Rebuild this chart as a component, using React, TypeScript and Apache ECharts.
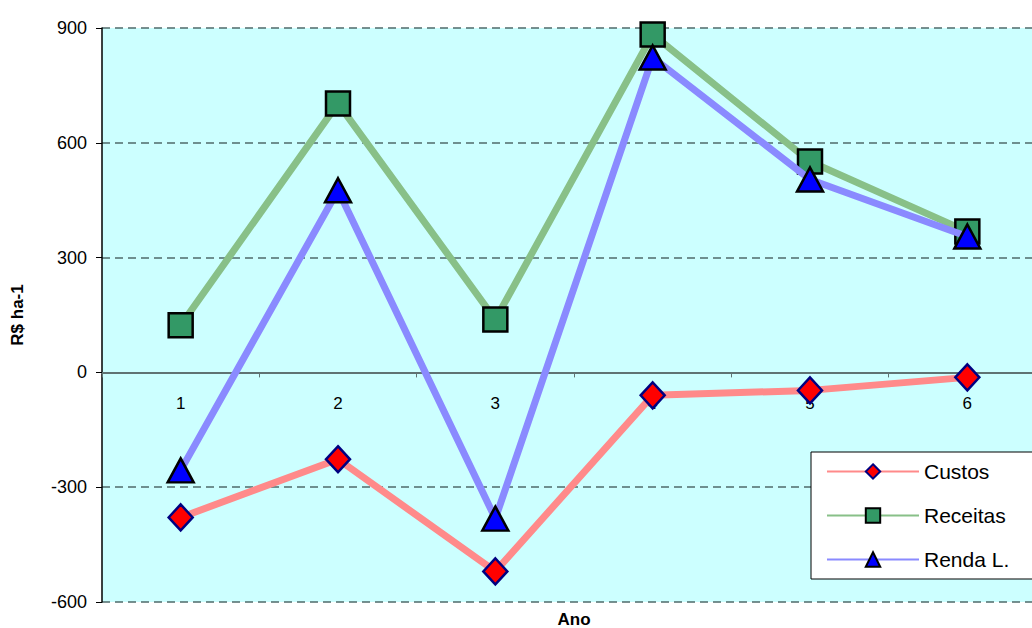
import React, { useEffect, useRef } from "react";
import * as echarts from "echarts";

const anos = ["1", "2", "3", "4", "5", "6"];
const custos = [-379, -227, -520, -60, -47, -13];
const receitas = [123, 703, 138, 883, 551, 368];
const rendaL = [-256, 476, -382, 823, 504, 355];

const yTicks = { min: -600, max: 900, interval: 300 };

const GRID_TOP = 28;
const GRID_BOTTOM = 26;
const CHART_H = 628;

export default function App() {
  const ref = useRef<HTMLDivElement>(null);

  useEffect(() => {
    if (!ref.current) return;
    const chart = echarts.init(ref.current, null, { renderer: "svg" });
    const font = "Liberation Sans, Arial, sans-serif";

    // The category axis sits on the zero line of the value axis.
    const plotH = CHART_H - GRID_TOP - GRID_BOTTOM;
    const zeroFromBottom = ((0 - yTicks.min) / (yTicks.max - yTicks.min)) * plotH;

    chart.setOption({
      animation: false,
      backgroundColor: "#ffffff",
      textStyle: { fontFamily: font },
      grid: {
        left: 102,
        top: GRID_TOP,
        bottom: GRID_BOTTOM,
        width: 944,
        containLabel: false,
        outerBoundsMode: "none",
        show: true,
        backgroundColor: "#ccffff",
        borderWidth: 0,
      },
      legend: {
        orient: "vertical",
        left: 811,
        top: 452,
        padding: [9, 60, 9, 15],
        backgroundColor: "#ffffff",
        borderColor: "#000000",
        borderWidth: 1,
        borderRadius: 0,
        itemWidth: 92,
        itemHeight: 18,
        itemGap: 23,
        textStyle: { fontSize: 21, color: "#000", fontFamily: font },
        data: ["Custos", "Receitas", "Renda L."],
      },
      xAxis: {
        type: "category",
        data: anos,
        offset: -zeroFromBottom,
        axisLine: { onZero: false, lineStyle: { color: "#5f7373", width: 2 } },
        axisTick: { show: true, length: 5, inside: false, lineStyle: { color: "#5f7373" } },
        axisLabel: { fontSize: 17, color: "#000", margin: 23, fontFamily: font },
        splitLine: { show: false },
      },
      yAxis: {
        type: "value",
        min: yTicks.min,
        max: yTicks.max,
        interval: yTicks.interval,
        name: "R$ ha-1",
        nameLocation: "middle",
        nameGap: 76,
        nameTextStyle: { fontSize: 17, fontWeight: "bold", color: "#000", fontFamily: font },
        axisLine: { show: true, lineStyle: { color: "#000", width: 1.5 } },
        axisTick: { show: true, length: 6, lineStyle: { color: "#000" } },
        axisLabel: { fontSize: 18, color: "#000", margin: 15, fontFamily: font },
        splitLine: {
          show: true,
          lineStyle: { color: "#4f6b6b", type: [8, 5], width: 1.5 },
        },
      },
      graphic: [
        {
          type: "text",
          x: 574,
          y: 619,
          style: {
            text: "Ano",
            font: `bold 17px ${font}`,
            fill: "#000",
            align: "center",
            verticalAlign: "middle",
          },
        },
      ],
      series: [
        {
          name: "Custos",
          type: "line",
          data: custos,
          symbol: "diamond",
          symbolSize: [24, 26],
          lineStyle: { color: "#ff8a8a", width: 7 },
          itemStyle: { color: "#ff0000", borderColor: "#000080", borderWidth: 2.5 },
          z: 2,
        },
        {
          name: "Receitas",
          type: "line",
          data: receitas,
          symbol: "rect",
          symbolSize: 24,
          lineStyle: { color: "#88c088", width: 7 },
          itemStyle: { color: "#339966", borderColor: "#000000", borderWidth: 2.5 },
          z: 3,
        },
        {
          name: "Renda L.",
          type: "line",
          data: rendaL,
          symbol: "triangle",
          symbolSize: [26, 24],
          lineStyle: { color: "#8a8aff", width: 7 },
          itemStyle: { color: "#0000ff", borderColor: "#000000", borderWidth: 2.5 },
          z: 4,
        },
      ],
    });
    return () => chart.dispose();
  }, []);

  return (
    <div
      ref={ref}
      style={{ position: "fixed", left: 0, top: 0, width: 1032, height: 628 }}
    />
  );
}
